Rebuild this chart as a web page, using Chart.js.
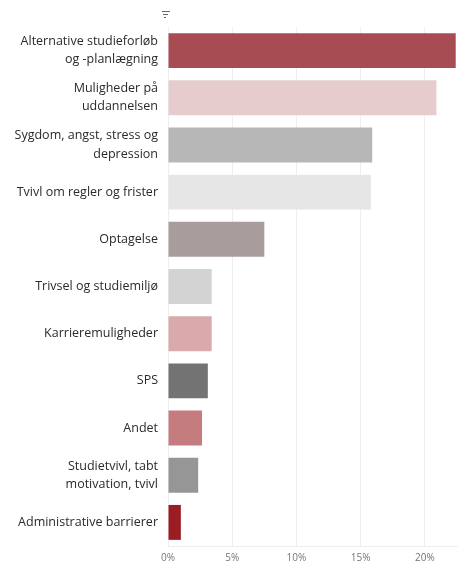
<!DOCTYPE html>
<html>
<head>
<meta charset="utf-8">
<script src="https://cdn.jsdelivr.net/npm/chart.js@4"></script>
<style>
    body { margin: 0; background: #fff; }
    #wrap { width: 461px; height: 564px; }
</style>
</head>
<body>
<div id="wrap"><canvas id="reasonChart" width="461" height="564"></canvas></div>
<script>
// Data
const categories = [
    ['Alternative studieforløb', 'og -planlægning'],
    ['Muligheder på', 'uddannelsen'],
    ['Sygdom, angst, stress og', 'depression'],
    'Tvivl om regler og frister',
    'Optagelse',
    'Trivsel og studiemiljø',
    'Karrieremuligheder',
    'SPS',
    'Andet',
    ['Studietvivl, tabt', 'motivation, tvivl'],
    'Administrative barrierer'
];
const shares = [22.4, 20.9, 15.9, 15.8, 7.5, 3.4, 3.4, 3.1, 2.65, 2.35, 1.0];
const barColors = [
    '#a84c53', '#e6cccd', '#b7b7b7', '#e6e6e6', '#a99c9c', '#d3d3d3',
    '#d9a9ab', '#737373', '#c47c7e', '#969696', '#9b1c22'
];
const xTicks = [0, 5, 10, 15, 20];

// Small sort icon above the labels
const sortIcon = {
    id: 'sortIcon',
    afterDraw(chart) {
        const ctx = chart.ctx;
        ctx.save();
        ctx.strokeStyle = '#666';
        ctx.lineWidth = 1;
        [[162, 170, 11.5], [163, 168, 14.5], [164, 166, 17.5]].forEach(([a, b, y]) => {
            ctx.beginPath();
            ctx.moveTo(a, y);
            ctx.lineTo(b, y);
            ctx.stroke();
        });
        ctx.restore();
    }
};

const ctx = document.getElementById('reasonChart').getContext('2d');
const reasonChart = new Chart(ctx, {
    type: 'bar',
    data: {
        labels: categories,
        datasets: [{
            data: shares,
            backgroundColor: barColors,
            categoryPercentage: 0.74,
            barPercentage: 1
        }]
    },
    options: {
        indexAxis: 'y',
        responsive: false,
        animation: false,
        layout: { padding: { top: 27, right: 4, bottom: 0, left: 0 } },
        plugins: {
            legend: { display: false },
            tooltip: { enabled: false }
        },
        scales: {
            x: {
                min: 0,
                max: 22.5,
                afterBuildTicks: (scale) => {
                    scale.ticks = xTicks.map(v => ({ value: v }));
                },
                afterFit: (scale) => { scale.height = 18; },
                grid: { color: '#eeeeee', drawTicks: false },
                border: { display: true, color: '#eeeeee' },
                ticks: {
                    padding: 6,
                    color: '#777',
                    font: { family: 'Open Sans', size: 10 },
                    callback: (v) => v + '%'
                }
            },
            y: {
                afterFit: (scale) => {
                    scale.width = 168;
                    scale.paddingTop = 0;
                    scale.paddingBottom = 0;
                },
                grid: { display: false, drawTicks: false },
                border: { display: false },
                ticks: {
                    padding: 10,
                    color: '#2a2a2a',
                    font: { family: 'Open Sans', size: 12.5, lineHeight: 1.45 }
                }
            }
        }
    },
    plugins: [sortIcon]
});
</script>
</body>
</html>
